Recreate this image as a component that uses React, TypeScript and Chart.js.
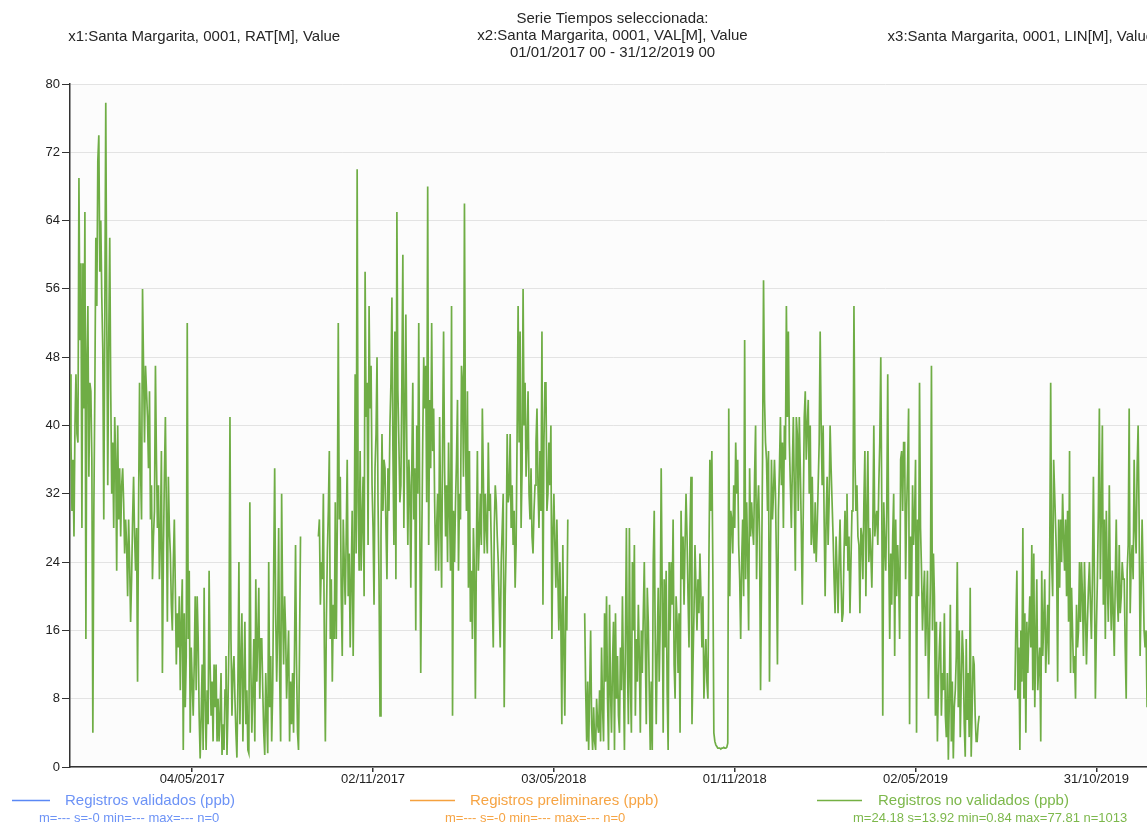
import React, { useEffect, useRef } from "react";
import { Chart, registerables } from "chart.js";

Chart.register(...registerables);

// ---------- data (daily values, ppb) ----------
const seriesStartLabel = "01/01/2017";
const seriesEndLabel = "31/12/2019";

const segAStart = 0; // 01/01/2017
const segAValues = [
  46, 38, 30, 36, 27, 40, 46, 39, 38, 69,
  50, 59, 28, 59, 42, 65, 15, 48, 54, 34,
  45, 44, 36, 4, 30, 44, 62, 54, 71, 74,
  58, 64, 55, 49, 29, 52, 77.81, 53, 33, 50,
  62, 44, 32, 38, 28, 41, 36, 23, 40, 29,
  35, 27, 33, 35, 31, 25, 29, 26, 20, 29,
  24, 17, 22, 29, 34, 27, 23, 28, 10, 30,
  45, 35, 29, 56, 47, 38, 47, 44, 41, 35,
  44, 29, 33, 22, 27, 30, 47, 36, 28, 33,
  22, 27, 37, 11, 25, 34, 41, 30, 17, 34,
  28, 25, 19, 16, 24, 29, 21, 12, 18, 14,
  20, 9, 17, 22, 2, 18, 7, 13, 52, 15,
  23, 4, 14, 10, 6, 12, 20, 9, 20, 15,
  6, 1, 6, 12, 2, 21, 8, 2, 9, 5,
  23, 12, 6, 10, 3, 12, 7, 12, 3, 8,
  3, 6, 11, 1.4, 5, 2, 9, 13, 1.4, 7,
  15, 41, 15, 6, 11, 13, 8, 4, 1.1, 10,
  24, 5, 12, 18, 3, 10, 17, 5, 9, 2,
  1.6, 31, 12, 4, 9, 15, 3, 22, 10, 15,
  21, 8, 15, 15, 9, 4, 1.4, 11, 6, 1.6,
  24, 7, 13, 3, 9, 23, 35, 18, 10, 16,
  28, 11, 3, 32, 19, 12, 20, 16, 8, 12,
  16, 3, 10, 5, 11, 4, 14, 26, 12, 4,
  2, 14, 27,
];

const segBStart = 250;
const segBValues = [
  27, 29, 19, 24, 22, 32, 14, 3, 17, 25,
  30, 37, 15, 22, 10, 19, 15, 31, 15, 28,
  52, 29, 34, 20, 13, 29, 24, 19, 27, 36,
  20, 25, 14, 22, 30, 13, 25, 46, 25, 70,
  31, 23, 37, 23, 29, 34, 20, 58, 41, 45,
  26, 54, 42, 47, 33, 28, 19, 35, 39, 48,
  31, 22, 6, 27, 39, 30, 36, 35, 28, 22,
  35, 30, 40, 45, 55, 37, 26, 51, 22, 65,
  44, 38, 31, 33, 45, 60, 28, 41, 53, 37,
  26, 36, 33, 21, 35, 45, 29, 35, 16, 40,
  32, 52, 30, 11, 26, 38, 48, 42, 47, 31,
  68, 26, 43, 35, 52, 37, 42, 31, 23, 28,
  32, 23, 41, 30, 21, 38, 51, 35, 27, 33,
  24, 38, 30, 23, 54, 6, 30, 24, 31, 36,
  43, 23, 32, 29, 47, 45, 34, 66, 38, 30,
  44, 21, 37, 17, 23, 15, 28, 23, 8, 25,
  37, 23, 27, 32, 26, 42, 34, 25, 32, 28,
  25, 38, 30, 32, 26, 20, 14, 28, 33, 31,
  27, 24, 19, 14, 24, 28, 32, 7, 20, 26,
  39, 31, 32, 39, 28, 33, 26, 30, 21, 26,
  39, 54, 38, 51, 28, 35, 56, 40, 45, 34,
  38, 44, 32, 29, 35, 27, 25, 30, 33, 38,
  42, 33, 28, 37, 30, 51, 19, 38, 45, 45,
  30, 32, 38, 33, 40, 15, 27, 32, 26, 21,
  29, 22, 16, 24, 17, 5, 26, 14, 6, 20,
  16, 29,
];

const segCStart = 518;
const segCValues = [
  18, 9, 3, 10, 2, 9, 16, 5, 2, 7,
  3, 2, 8, 5, 4, 9, 3, 14, 7, 3,
  18, 10, 20, 8, 2, 19, 9, 4, 12, 17,
  2, 18, 8, 13, 6, 4, 14, 9, 20, 11,
  2, 15, 28, 12, 5, 28, 10, 4, 24, 16,
  26, 6, 15, 10, 19, 13, 4, 16, 11, 18,
  24, 14, 5, 21, 17, 9, 2, 10, 2, 24,
  30, 15, 5, 14, 21, 10, 17, 35, 21, 4,
  22, 14, 23, 9, 2, 24, 16, 24, 19, 29,
  12, 8, 20, 17, 11, 18, 4, 30, 22, 27,
  19, 26, 32, 27, 20, 14, 28, 34, 5, 12,
  18, 26, 21, 16, 22, 18, 25, 20, 14, 20,
  8, 12, 15, 10, 8, 24, 36, 30, 37, 23,
  4, 3, 2.6, 2.4, 2.2, 2.2, 2.2, 2.1, 2.2, 2.2,
  2.3, 2.2, 2.2, 2.3, 2.8, 42, 20, 30, 29, 25,
  33, 28, 38, 32, 36, 26, 22, 15, 24, 29,
  20, 50, 22, 31, 25, 16, 35, 27, 31, 28,
  26, 34, 40, 22, 30, 33, 27, 9, 22, 36,
  57, 43, 38, 36, 30, 37, 10, 25, 36, 29,
  32, 36, 32, 24, 12, 30, 35, 41, 33, 38,
  28, 40, 36, 54, 41, 51, 38, 33, 28, 35,
  41, 32, 23, 41, 39, 30, 41, 35, 28, 19,
  30, 41, 44, 36, 40, 43, 32, 40, 26, 34,
  27, 25, 31, 24, 28, 33, 38, 51, 40, 33,
  40, 29, 20, 29, 34, 26, 31, 40, 35, 31,
  27, 22, 18, 27, 23, 18, 24, 29, 22, 17,
  18, 25, 30, 26, 32, 23, 27, 18, 24, 30,
  30, 54, 36, 30, 33, 27, 26, 18, 28, 27,
  22, 31, 37, 20, 30, 37, 24, 28, 25, 21,
  28, 40, 27, 29, 30, 26, 33, 38, 48, 31,
  6, 31, 26, 23, 30, 46, 25, 15, 25, 19,
  27, 32, 13, 29, 20, 26, 22, 15, 36, 37,
  30, 38, 38, 22, 30, 35, 42, 5, 27, 20,
  33, 26, 29, 36, 4, 29, 20, 45, 28, 23,
  16, 20, 23, 13, 18, 23, 8, 15, 22, 47,
  16, 25, 20, 6, 17, 3, 10, 14, 17, 6,
  11, 9, 18, 6, 3.5, 11, 0.84, 8, 19, 3,
  10, 1, 7, 9, 13, 24, 7, 16, 3.5, 10,
  16, 13, 5, 1.2, 15, 5.5, 11, 3.5, 21, 1.2,
  7, 13, 12, 6, 3, 3, 5, 6,
];

const segDStart = 951;
const segDValues = [
  9, 17, 23, 8, 14, 2, 16, 10, 28, 8,
  18, 4, 17, 11, 16, 20, 14, 26, 9, 25,
  7, 15, 22, 9, 12, 14, 3, 23, 13, 17,
  22, 11, 15, 19, 12, 24, 45, 24, 20, 36,
  32, 28, 24, 10, 29, 21, 29, 24, 32, 27,
  23, 29, 20, 30, 17, 37, 11, 21, 16, 11,
  13, 8, 19, 14, 16, 24, 17, 24, 20, 13,
  24, 18, 12, 17, 21, 24, 19, 15, 22, 34,
  22, 8, 16, 22, 30, 42, 22, 30, 40, 19,
  29, 15, 30, 22, 17, 33, 21, 16, 23, 18,
  13, 22, 29, 20, 17, 26, 18, 20, 24, 22,
  22, 14, 8, 23, 26, 42, 18, 24, 26, 22,
  36, 28, 25, 35, 40, 29, 13, 20, 29, 23,
  16, 14, 16, 7, 15, 22, 18, 27, 12, 20,
  25, 17, 21, 19,
];

const xTickLabels = ["04/05/2017", "02/11/2017", "03/05/2018", "01/11/2018", "02/05/2019", "31/10/2019"];
const yMin = 0;
const yMax = 80;
const yStep = 8;

const titleTop = "Serie Tiempos seleccionada:";
const titleX1 = "x1:Santa Margarita, 0001, RAT[M], Value";
const titleX2 = "x2:Santa Margarita, 0001, VAL[M], Value";
const titleX3 = "x3:Santa Margarita, 0001, LIN[M], Value";
const titleRange = "01/01/2017 00 - 31/12/2019 00";

const legendNames = ["Registros validados (ppb)", "Registros preliminares (ppb)", "Registros no validados (ppb)"];
const legendStats = [
  "m=--- s=-0 min=--- max=--- n=0",
  "m=--- s=-0 min=--- max=--- n=0",
  "m=24.18 s=13.92 min=0.84 max=77.81 n=1013",
];
const legendLineColors = ["#5a88f5", "#f5a13e", "#74b043"];
const legendTextColors = ["#6d93f6", "#f6a444", "#7db84c"];

const FONT = "'Liberation Sans', Arial, Helvetica, sans-serif";

function dayIndex(label: string): number {
  const [d, m, y] = label.split("/").map(Number);
  const [d0, m0, y0] = seriesStartLabel.split("/").map(Number);
  return Math.round((Date.UTC(y, m - 1, d) - Date.UTC(y0, m0 - 1, d0)) / 86400000);
}

export default function App() {
  const ref = useRef<HTMLCanvasElement>(null);

  useEffect(() => {
    if (!ref.current) return;
    const segments: [number, number[]][] = [
      [segAStart, segAValues],
      [segBStart, segBValues],
      [segCStart, segCValues],
      [segDStart, segDValues],
    ];
    const points: { x: number; y: number | null }[] = [];
    segments.forEach(([start, vals], i) => {
      if (i > 0) points.push({ x: start - 1, y: null });
      vals.forEach((v, j) => points.push({ x: start + j, y: v }));
    });
    const tickDays = xTickLabels.map(dayIndex);
    const labelByDay: Record<number, string> = {};
    tickDays.forEach((d, i) => (labelByDay[d] = xTickLabels[i]));

    const decor = {
      id: "decor",
      beforeDraw(chart: any) {
        const { ctx, chartArea: a } = chart;
        ctx.save();
        ctx.fillStyle = "#fcfcfc";
        ctx.fillRect(a.left, a.top, a.right - a.left, a.bottom - a.top);
        ctx.restore();
      },
      afterDraw(chart: any) {
        const ctx: CanvasRenderingContext2D = chart.ctx;
        const W = chart.width;
        ctx.save();
        ctx.fillStyle = "#262626";
        ctx.textAlign = "center";
        ctx.textBaseline = "middle";
        ctx.font = `15px ${FONT}`;
        ctx.fillText(titleTop, W / 2, 19);
        ctx.fillText(titleX1, W / 6, 37);
        ctx.fillText(titleX2, W / 2, 36);
        ctx.fillText(titleX3, (5 * W) / 6, 37);
        ctx.fillText(titleRange, W / 2, 53);

        const lineX = [12, 410, 817];
        const lineLen = [38, 45, 45];
        const textX = [65, 470, 878];
        const statX = [39, 445, 853];
        ctx.textAlign = "left";
        for (let i = 0; i < 3; i++) {
          ctx.strokeStyle = legendLineColors[i];
          ctx.lineWidth = 1.5;
          ctx.beginPath();
          ctx.moveTo(lineX[i], 800.5);
          ctx.lineTo(lineX[i] + lineLen[i], 800.5);
          ctx.stroke();
          ctx.fillStyle = legendTextColors[i];
          ctx.font = `15px ${FONT}`;
          ctx.fillText(legendNames[i], textX[i], 801);
          ctx.font = `13px ${FONT}`;
          ctx.fillText(legendStats[i], statX[i], 818);
        }
        ctx.restore();
      },
    };

    const chart = new Chart(ref.current, {
      type: "line",
      data: {
        datasets: [
          {
            data: points as any,
            borderColor: "#6fad45",
            borderWidth: 1.7,
            pointRadius: 0,
            tension: 0,
            fill: false,
            spanGaps: false,
          },
        ],
      },
      options: {
        animation: false,
        responsive: false,
        devicePixelRatio: 1,
        events: [],
        layout: { padding: { top: 84, right: 68, left: 0, bottom: 0 } },
        plugins: { legend: { display: false }, tooltip: { enabled: false }, title: { display: false } },
        scales: {
          x: {
            type: "linear",
            min: dayIndex(seriesStartLabel),
            max: dayIndex(seriesEndLabel),
            afterFit: (s: any) => {
              s.height = 58;
            },
            afterBuildTicks: (s: any) => {
              s.ticks = tickDays.map((v) => ({ value: v }));
            },
            ticks: {
              autoSkip: false,
              maxRotation: 0,
              padding: 0,
              color: "#222",
              font: { family: FONT, size: 13 },
              callback: (v: any) => labelByDay[Number(v)] ?? "",
            },
            grid: { drawOnChartArea: false, drawTicks: true, tickLength: 5, tickColor: "#333", lineWidth: 1.5 },
            border: { display: true, color: "#333", width: 1.5 },
          },
          y: {
            min: yMin,
            max: yMax,
            afterFit: (s: any) => {
              s.width = 70;
            },
            ticks: {
              stepSize: yStep,
              padding: 2,
              color: "#222",
              font: { family: FONT, size: 13 },
            },
            grid: { color: "#e3e3e3", lineWidth: 1, tickColor: "#333", tickLength: 8, drawTicks: true },
            border: { display: true, color: "#333", width: 1.5 },
          },
        },
      },
      plugins: [decor],
    });
    return () => chart.destroy();
  }, []);

  return (
    <div
      style={{
        position: "fixed",
        left: 0,
        top: 0,
        width: "100vw",
        height: "100vh",
        overflow: "hidden",
        background: "#fff",
      }}
    >
      <canvas ref={ref} width={1225} height={825} style={{ display: "block", width: 1225, height: 825 }} />
    </div>
  );
}
